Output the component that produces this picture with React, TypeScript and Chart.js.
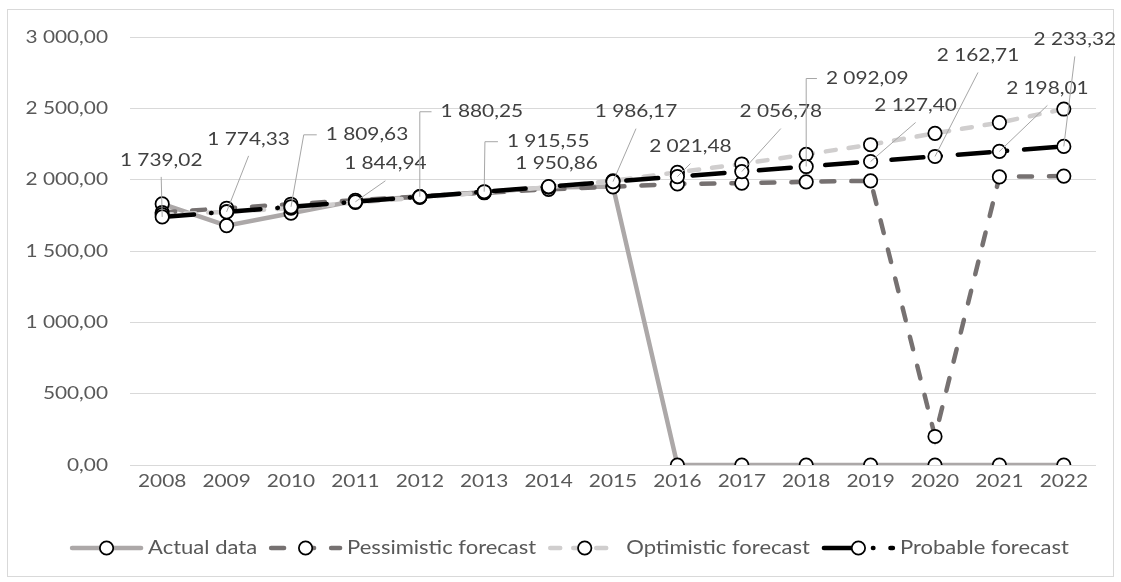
import React, { useEffect, useRef } from "react";
import { Chart, registerables } from "chart.js";

Chart.register(...registerables);

const years = ["2008", "2009", "2010", "2011", "2012", "2013", "2014", "2015", "2016", "2017", "2018", "2019", "2020", "2021", "2022"];
const actualData = [1830, 1678, 1765, 1852, 1880, 1913, 1945, 1952, 0, 0, 0, 0, 0, 0, 0];
const pessimisticForecast = [1770, 1800, 1828, 1856, 1882, 1908, 1932, 1950, 1970, 1975, 1985, 1992, 200, 2020, 2025];
const optimisticForecast = [1755, 1775, 1800, 1840, 1875, 1910, 1948, 1992, 2052, 2110, 2178, 2245, 2325, 2400, 2495];
const probableForecast = [1739.02, 1774.33, 1809.63, 1844.94, 1880.25, 1915.55, 1950.86, 1986.17, 2021.48, 2056.78, 2092.09, 2127.4, 2162.71, 2198.01, 2233.32];
const seriesNames = ["Actual data", "Pessimistic forecast", "Optimistic forecast", "Probable forecast"];
const yTicks = [0, 500, 1000, 1500, 2000, 2500, 3000];

// layout only: label centre offsets (px) from each probable-forecast point
const labelOffsets: [number, number][] = [
  [-1, -57], [22, -73], [76, -72], [30, -38], [62, -85], [64, -50], [8, -23], [23, -70],
  [13, -30], [39, -60], [61, -88], [45, -56], [43, -101], [48, -63], [11, -107],
];

const FONT = "Lato, 'Open Sans', sans-serif";
const SX = 1.19;
const FS = 17.5;
const LEGEND_FS = 18.5;

const fmt = (v: number) => {
  const [i, d] = v.toFixed(2).split(".");
  return i.replace(/\B(?=(\d{3})+(?!\d))/g, " ") + "," + d;
};

function drawText(ctx: CanvasRenderingContext2D, text: string, x: number, y: number, color: string, align: CanvasTextAlign, size: number = FS) {
  ctx.save();
  ctx.font = `${size}px ${FONT}`;
  ctx.fillStyle = color;
  ctx.textAlign = align;
  ctx.textBaseline = "middle";
  ctx.translate(x, y);
  ctx.scale(SX, 1);
  ctx.fillText(text, 0, 0);
  ctx.restore();
}

function textW(ctx: CanvasRenderingContext2D, text: string, size: number = FS) {
  ctx.save();
  ctx.font = `${size}px ${FONT}`;
  const w = ctx.measureText(text).width * SX;
  ctx.restore();
  return w;
}

function marker(ctx: CanvasRenderingContext2D, x: number, y: number) {
  ctx.save();
  ctx.setLineDash([]);
  ctx.beginPath();
  ctx.arc(x, y, 6.7, 0, Math.PI * 2);
  ctx.fillStyle = "#FFFFFF";
  ctx.fill();
  ctx.lineWidth = 1.75;
  ctx.strokeStyle = "#000000";
  ctx.stroke();
  ctx.restore();
}

const customPlugin = {
  id: "customDecor",
  beforeDraw(chart: any) {
    const ctx = chart.ctx as CanvasRenderingContext2D;
    ctx.save();
    ctx.fillStyle = "#FFFFFF";
    ctx.fillRect(0, 0, chart.width, chart.height);
    ctx.strokeStyle = "#D9D9D9";
    ctx.lineWidth = 1;
    ctx.strokeRect(7.5, 9.5, 1106, 567);
    ctx.restore();
  },
  afterDatasetsDraw(chart: any) {
    const ctx = chart.ctx as CanvasRenderingContext2D;
    const meta = chart.getDatasetMeta(3);
    meta.data.forEach((pt: any, i: number) => {
      const px = pt.x;
      const py = pt.y;
      const [dx, dy] = labelOffsets[i];
      const cx = px + dx;
      const cy = py + dy;
      const text = fmt(probableForecast[i]);
      const w = textW(ctx, text);
      const left = cx - w / 2 - 9;
      const right = cx + w / 2 + 9;
      ctx.save();
      ctx.strokeStyle = "#A6A6A6";
      ctx.lineWidth = 1;
      ctx.beginPath();
      if (px < left) {
        ctx.moveTo(left, cy);
        ctx.lineTo(Math.max(left - 13, px), cy);
        ctx.lineTo(px, py);
        ctx.stroke();
      } else if (px > right) {
        ctx.moveTo(right, cy);
        ctx.lineTo(Math.min(right + 13, px), cy);
        ctx.lineTo(px, py);
        ctx.stroke();
      } else {
        const sx = cx;
        const sy = cy + 17;
        if (Math.hypot(px - sx, py - sy) > 12) {
          ctx.moveTo(sx, sy);
          ctx.lineTo(px, py);
          ctx.stroke();
        }
      }
      ctx.restore();
      drawText(ctx, text, cx, cy, "#404040", "center");
    });
  },
  afterDraw(chart: any) {
    const ctx = chart.ctx as CanvasRenderingContext2D;
    const ys = chart.scales.y;
    const xs = chart.scales.x;
    yTicks.forEach((v) => drawText(ctx, fmt(v), 108, ys.getPixelForValue(v), "#595959", "right"));
    years.forEach((yr, i) => drawText(ctx, yr, xs.getPixelForValue(i), xs.top + 16, "#595959", "center"));

    // legend
    const sample = 75;
    const textOff = 79;
    const gap = 11;
    const widths = seriesNames.map((n) => textW(ctx, n, LEGEND_FS));
    const total = widths.reduce((a, w) => a + textOff + w + gap, 0) - gap;
    let x = 569 - total / 2;
    const ly = 548;
    chart.data.datasets.forEach((ds: any, i: number) => {
      ctx.save();
      ctx.strokeStyle = ds.borderColor;
      ctx.lineWidth = ds.borderWidth;
      ctx.lineCap = "round";
      ctx.setLineDash(ds.borderDash || []);
      ctx.beginPath();
      ctx.moveTo(x + 3, ly);
      ctx.lineTo(x + sample - 3, ly);
      ctx.stroke();
      ctx.restore();
      marker(ctx, x + sample / 2, ly);
      drawText(ctx, seriesNames[i], x + textOff, ly, "#595959", "left", LEGEND_FS);
      x += textOff + widths[i] + gap;
    });
  },
};

export default function App() {
  const ref = useRef<HTMLCanvasElement | null>(null);
  useEffect(() => {
    if (!ref.current) return;
    const common = {
      pointRadius: 6.7,
      pointBorderWidth: 1.75,
      pointBackgroundColor: "#FFFFFF",
      pointBorderColor: "#000000",
      borderCapStyle: "round" as const,
      tension: 0,
      fill: false,
    };
    const chart = new Chart(ref.current, {
      type: "line",
      data: {
        labels: years,
        datasets: [
          { ...common, label: seriesNames[0], data: actualData, borderColor: "#ACA8A8", borderWidth: 4.5, borderDash: [], order: 4 },
          { ...common, label: seriesNames[1], data: pessimisticForecast, borderColor: "#767171", borderWidth: 4.5, borderDash: [13, 17], order: 3 },
          { ...common, label: seriesNames[2], data: optimisticForecast, borderColor: "#D0CECE", borderWidth: 4.5, borderDash: [10, 13], order: 2 },
          { ...common, label: seriesNames[3], data: probableForecast, borderColor: "#000000", borderWidth: 4.5, borderDash: [32, 17, 0.5, 17], order: 1 },
        ],
      },
      options: {
        animation: false,
        responsive: false,
        devicePixelRatio: 1,
        layout: { padding: { left: 0, right: 25, top: 37, bottom: 80 } },
        plugins: { legend: { display: false }, tooltip: { enabled: false } },
        scales: {
          x: {
            offset: true,
            grid: { display: false, drawTicks: false },
            border: { display: false },
            ticks: { color: "rgba(0,0,0,0)", autoSkip: false, maxRotation: 0, minRotation: 0, font: { size: 10 } },
            afterFit: (s: any) => { s.height = 37; },
          },
          y: {
            min: 0,
            max: 3000,
            ticks: { stepSize: 500, color: "rgba(0,0,0,0)", font: { size: 10 } },
            grid: { color: "#D9D9D9", lineWidth: 1, drawTicks: false },
            border: { display: false },
            afterFit: (s: any) => { s.width = 130; },
          },
        },
      },
      plugins: [customPlugin],
    });
    return () => chart.destroy();
  }, []);
  return (
    <div style={{ position: "absolute", left: 0, top: 0, width: 1121, height: 582 }}>
      <canvas ref={ref} width={1121} height={582} style={{ display: "block" }} />
    </div>
  );
}
